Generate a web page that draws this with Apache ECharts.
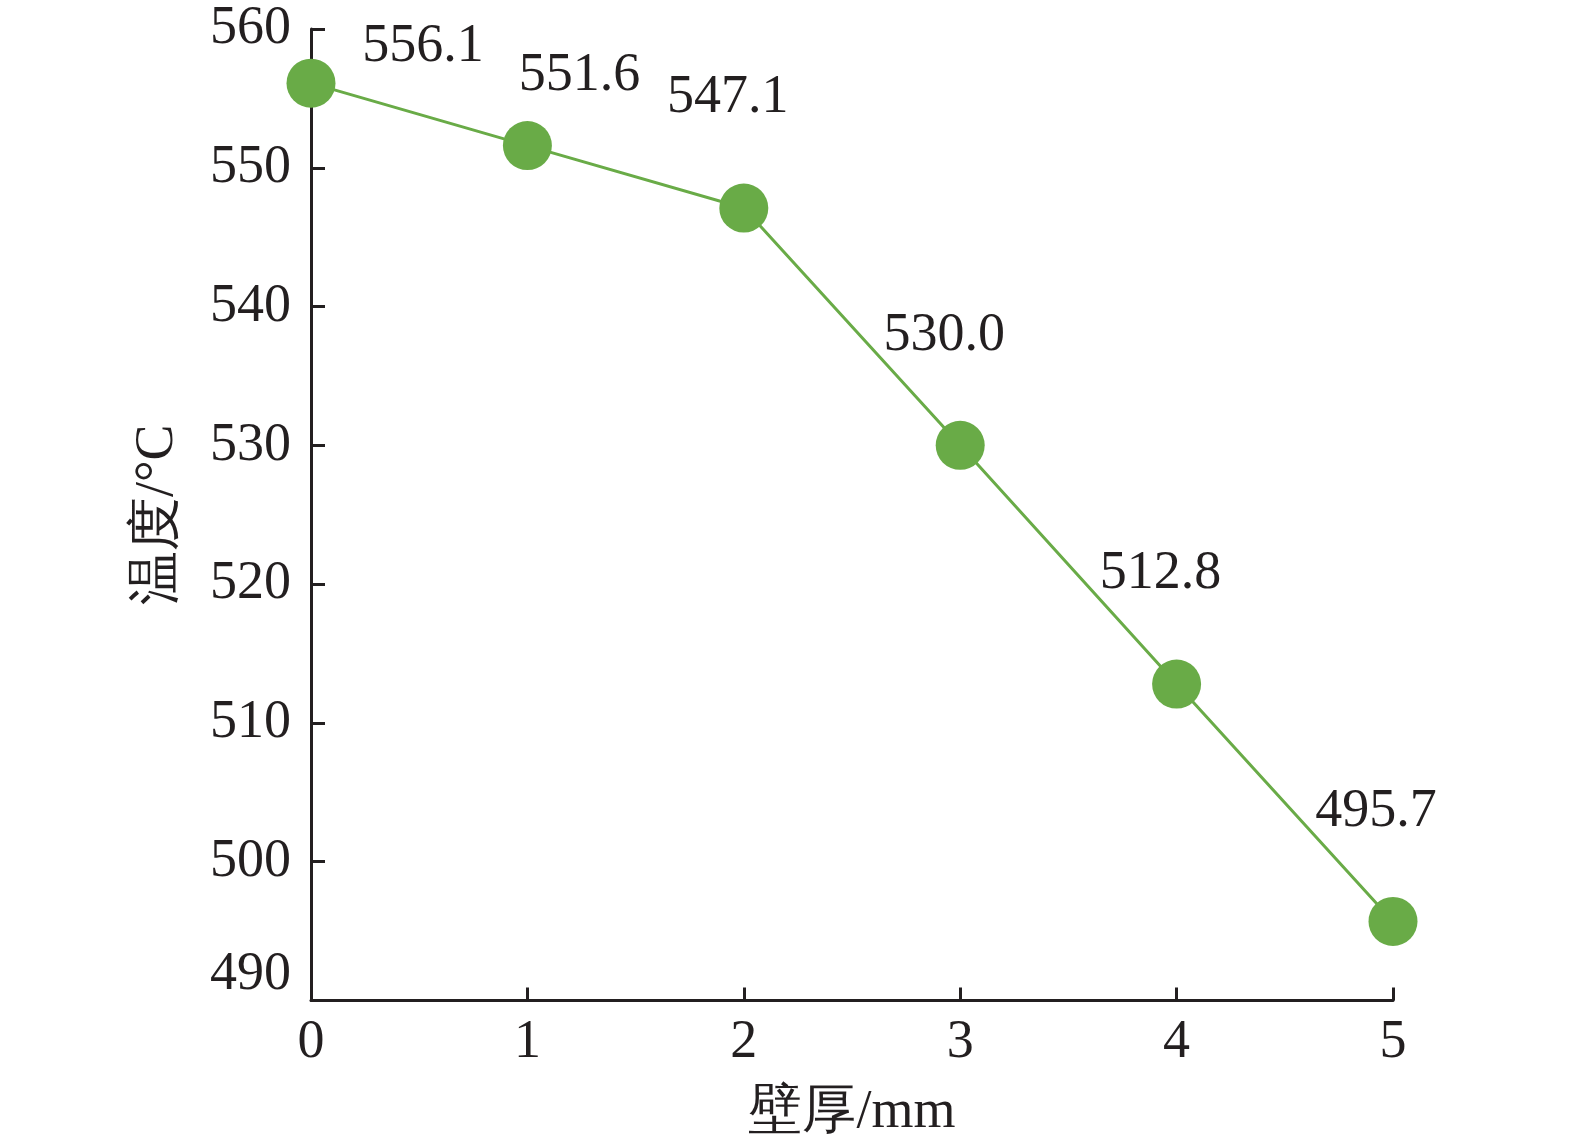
<!DOCTYPE html>
<html>
<head>
<meta charset="utf-8">
<script src="https://cdn.jsdelivr.net/npm/echarts@6/dist/echarts.min.js"></script>
<style>
html,body{margin:0;padding:0;background:#fff;}
#main{width:1575px;height:1146px;}
</style>
</head>
<body>
<div id="main"></div>
<script>
const thickness = [0, 1, 2, 3, 4, 5];
const temperature = [556.1, 551.6, 547.1, 530.0, 512.8, 495.7];
const yTicks = [490, 500, 510, 520, 530, 540, 550, 560];
const xTicks = [0, 1, 2, 3, 4, 5];
const xName = '壁厚/mm';
const yName = '温度/°C';

const labelOffsets = [[112, -36], [52, -70], [-16, -110], [-16, -110], [-16, -110], [-17, -110]];

const ink = '#231f20';
const green = '#69ab47';
const font = '"Liberation Serif", "Times New Roman", serif';

const chart = echarts.init(document.getElementById('main'), null, {renderer: 'canvas'});
chart.setOption({
  backgroundColor: '#fff',
  animation: false,
  grid: {left: 311, right: 182, top: 29, bottom: 145.5, containLabel: false},
  xAxis: {
    type: 'value',
    min: xTicks[0], max: xTicks[xTicks.length - 1], interval: 1,
    name: xName, nameLocation: 'middle', nameGap: 85,
    nameTextStyle: {fontSize: 54, color: ink, fontFamily: font},
    axisLine: {show: true, lineStyle: {color: ink, width: 3}},
    axisTick: {show: true, inside: true, length: 13, lineStyle: {color: ink, width: 3}},
    axisLabel: {margin: 15, fontSize: 54, color: ink, fontFamily: font},
    splitLine: {show: false}
  },
  yAxis: {
    type: 'value',
    min: yTicks[0], max: yTicks[yTicks.length - 1], interval: 10,
    name: yName, nameLocation: 'middle', nameGap: 126, nameRotate: 90,
    nameTextStyle: {fontSize: 54, color: ink, fontFamily: font},
    axisLine: {show: true, lineStyle: {color: ink, width: 3}},
    axisTick: {show: true, inside: true, length: 14, lineStyle: {color: ink, width: 3}},
    axisLabel: {
      margin: 20, fontSize: 54, color: ink, fontFamily: font,
      formatter: function (v) { return v === yTicks[0] ? '{low|' + v + '}' : String(v); },
      rich: {low: {fontSize: 54, color: ink, fontFamily: font, padding: [0, 0, 52, 0]}}
    },
    splitLine: {show: false}
  },
  series: [{
    type: 'line',
    data: thickness.map((x, i) => ({
      value: [x, temperature[i]],
      label: {offset: labelOffsets[i]}
    })),
    symbol: 'circle',
    symbolSize: 49,
    lineStyle: {color: green, width: 3},
    itemStyle: {color: green},
    label: {
      show: true, position: 'inside',
      formatter: p => p.value[1].toFixed(1),
      fontSize: 54, color: ink, fontFamily: font
    },
    z: 3
  }]
});
</script>
</body>
</html>
